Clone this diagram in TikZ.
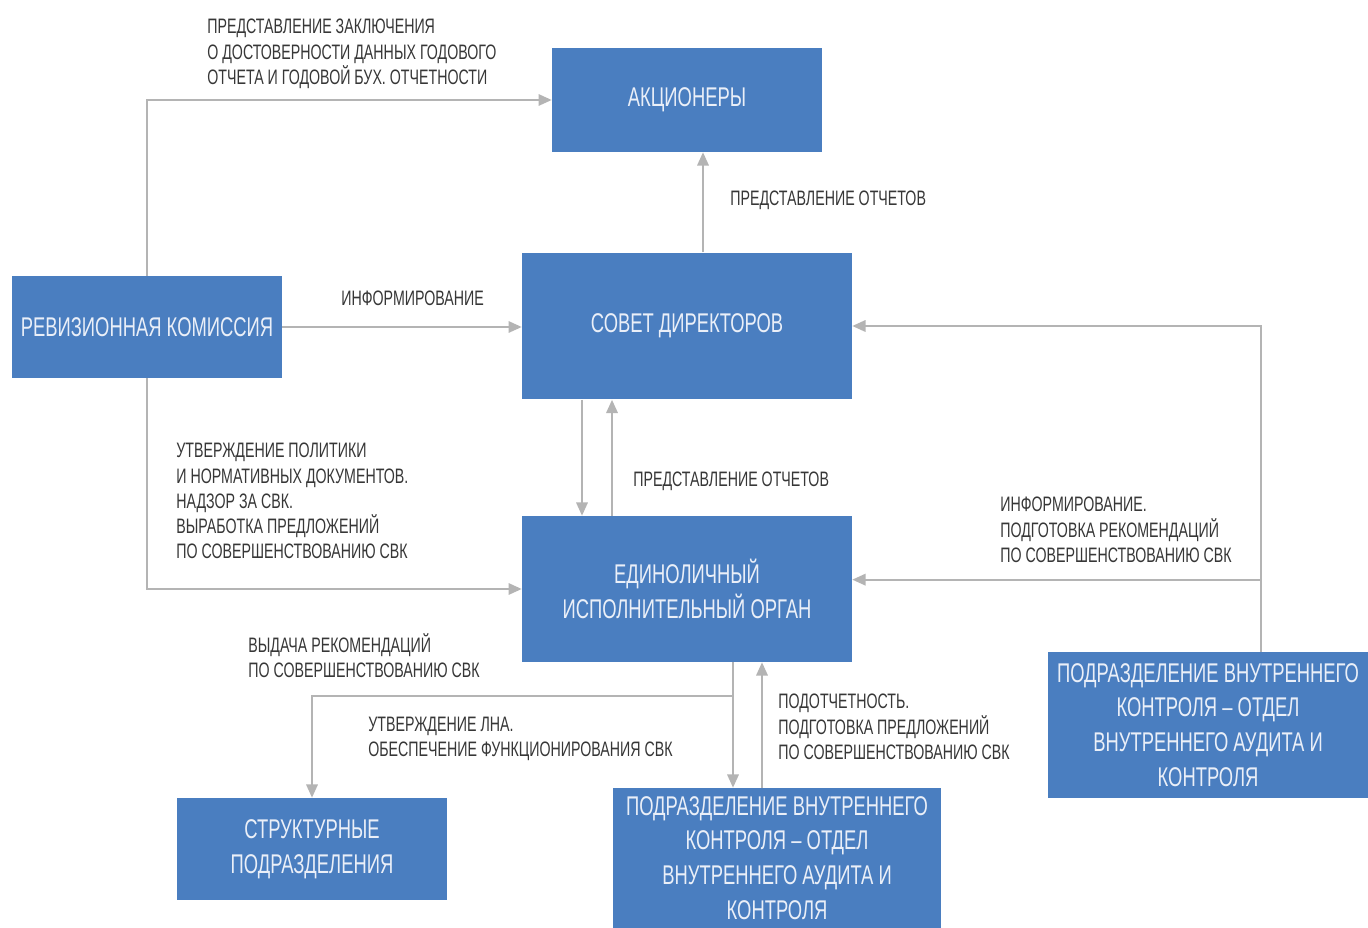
\documentclass[tikz,border=0pt]{standalone}
\usepackage{fontspec}
\setmainfont{Liberation Sans}[FakeStretch=0.68]
\usetikzlibrary{arrows.meta,calc,positioning}

\definecolor{boxblue}{RGB}{74,126,192}
\definecolor{boxtext}{RGB}{234,239,248}
\definecolor{linegray}{RGB}{180,180,180}
\definecolor{notegray}{RGB}{55,55,55}

\begin{document}
\begin{tikzpicture}[
      x=0.02cm, y=-0.02cm,
      unit/.style = {fill=boxblue, text=boxtext, align=center, inner sep=2pt,
                     font=\fontsize{15.4}{19.8}\selectfont},
      note/.style = {text=notegray, align=left, inner sep=0pt, anchor=north west,
                     font=\fontsize{11.9}{14.3}\selectfont},
      link/.style = {draw=linegray, line width=1.1pt, -{Triangle[length=7.5pt,width=6.5pt]}}
    ]
    \useasboundingbox (0,0) rectangle (1368,928);
    \fill[white] (0,0) rectangle (1368,928);

    \node (shareholders) [unit, minimum width=5.4cm,  minimum height=2.08cm] at (687,100)  {АКЦИОНЕРЫ};
    \node (board)        [unit, minimum width=6.6cm,  minimum height=2.94cm] at (687,326)  {СОВЕТ ДИРЕКТОРОВ};
    \node (audit)        [unit, minimum width=5.4cm,  minimum height=2.04cm] at (147,327)  {РЕВИЗИОННАЯ КОМИССИЯ};
    \node (ceo)          [unit, minimum width=6.6cm,  minimum height=2.92cm] at (687,589)  {ЕДИНОЛИЧНЫЙ\\ИСПОЛНИТЕЛЬНЫЙ ОРГАН};
    \node (divisions)    [unit, minimum width=5.4cm,  minimum height=2.04cm] at (312,849)  {СТРУКТУРНЫЕ\\ПОДРАЗДЕЛЕНИЯ};
    \node (internal)     [unit, minimum width=6.58cm, minimum height=2.8cm]  at (777,858)  {ПОДРАЗДЕЛЕНИЕ ВНУТРЕННЕГО\\КОНТРОЛЯ – ОТДЕЛ\\ВНУТРЕННЕГО АУДИТА И\\КОНТРОЛЯ};
    \node (control)      [unit, minimum width=6.4cm,  minimum height=2.92cm] at (1208,725) {ПОДРАЗДЕЛЕНИЕ ВНУТРЕННЕГО\\КОНТРОЛЯ – ОТДЕЛ\\ВНУТРЕННЕГО АУДИТА И\\КОНТРОЛЯ};

    \node (conclusionnote) [note] at (207,19)  {ПРЕДСТАВЛЕНИЕ ЗАКЛЮЧЕНИЯ\\О ДОСТОВЕРНОСТИ ДАННЫХ ГОДОВОГО\\ОТЧЕТА И ГОДОВОЙ БУХ. ОТЧЕТНОСТИ};
    \node (infonote)       [note, anchor=west] at (341,298) {ИНФОРМИРОВАНИЕ};
    \node (reportnote)     [note, anchor=west] at (730,200) {ПРЕДСТАВЛЕНИЕ ОТЧЕТОВ};
    \node (ceoreportnote)  [note, anchor=west] at (633,481) {ПРЕДСТАВЛЕНИЕ ОТЧЕТОВ};
    \node (policynote)     [note] at (176,443) {УТВЕРЖДЕНИЕ ПОЛИТИКИ\\И НОРМАТИВНЫХ ДОКУМЕНТОВ.\\НАДЗОР ЗА СВК.\\ВЫРАБОТКА ПРЕДЛОЖЕНИЙ\\ПО СОВЕРШЕНСТВОВАНИЮ СВК};
    \node (controlnote)    [note] at (1000,497) {ИНФОРМИРОВАНИЕ.\\ПОДГОТОВКА РЕКОМЕНДАЦИЙ\\ПО СОВЕРШЕНСТВОВАНИЮ СВК};
    \node (advicenote)     [note] at (248,633) {ВЫДАЧА РЕКОМЕНДАЦИЙ\\ПО СОВЕРШЕНСТВОВАНИЮ СВК};
    \node (lnanote)        [note] at (368,717) {УТВЕРЖДЕНИЕ ЛНА.\\ОБЕСПЕЧЕНИЕ ФУНКЦИОНИРОВАНИЯ СВК};
    \node (accountnote)    [note] at (778,694) {ПОДОТЧЕТНОСТЬ.\\ПОДГОТОВКА ПРЕДЛОЖЕНИЙ\\ПО СОВЕРШЕНСТВОВАНИЮ СВК};

    \coordinate (ctrlsplit) at ($(control.north)+(53,-72)$);
    \coordinate (ceosplit)  at ($(ceo.south)+(46,34)$);

    \draw[link] (audit.north) |- (shareholders.west);
    \draw[link] (audit.east)  -- (audit.east -| board.west);
    \draw[link] (audit.south) |- (ceo.west);
    \draw[link] ($(board.north)+(16,0)$)  -- ($(shareholders.south)+(16,0)$);
    \draw[link] ($(board.south)+(-105,0)$) -- ($(ceo.north)+(-105,0)$);
    \draw[link] ($(ceo.north)+(-75,0)$)    -- ($(board.south)+(-75,0)$);
    \draw[link] ($(control.north)+(53,0)$) |- (board.east);
    \draw[link] (ctrlsplit) -- (ctrlsplit -| ceo.east);
    \draw[link] ($(ceo.south)+(46,0)$)     -- ($(internal.north)+(-44,0)$);
    \draw[link] (ceosplit) -| (divisions.north);
    \draw[link] ($(internal.north)+(-15,0)$) -- ($(ceo.south)+(75,0)$);

  \end{tikzpicture}
\end{document}
